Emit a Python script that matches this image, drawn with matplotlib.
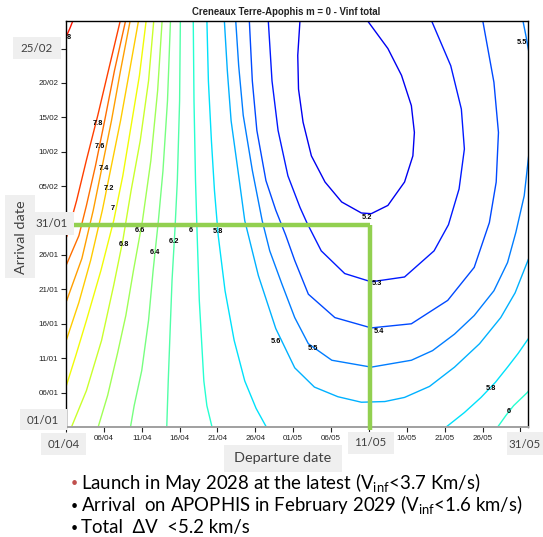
import numpy as np
import matplotlib
matplotlib.use('Agg')
import matplotlib.pyplot as plt
from matplotlib.patches import Rectangle

W, H = 543, 537

# ── Axis dates (days after 01/04 for departure, after 01/01 for arrival) ──
dep_ticks = list(range(0, 61, 5))
dep_labels = ['01/04', '06/04', '11/04', '16/04', '21/04', '26/04', '01/05',
              '06/05', '11/05', '16/05', '21/05', '26/05', '31/05']
arr_ticks = list(range(0, 56, 5))
arr_labels = ['01/01', '06/01', '11/01', '16/01', '21/01', '26/01', '31/01',
              '05/02', '10/02', '15/02', '20/02', '25/02']
# dates that the slide re-labels in grey boxes
dep_boxed = ['01/04', '11/05', '31/05']
arr_boxed = ['01/01', '31/01', '25/02']

# ── Vinf total iso-lines: (departure day, arrival day) ──
c52 = [(30.9, 59.2), (30.6, 54.0), (30.7, 49.1), (31.3, 44.3), (32.4, 39.4), (34.2, 35.6),
       (36.4, 32.7), (39.0, 31.1), (40.3, 31.0), (42.5, 32.2), (44.7, 35.6), (45.8, 39.4),
       (46.0, 42.8), (45.6, 46.7), (44.3, 51.1), (42.5, 55.0), (39.7, 59.2)]
c53 = [(26.7, 59.2), (27.2, 50.3), (28.0, 43.1), (29.3, 36.5), (30.9, 31.9), (31.8, 29.7),
       (33.7, 25.6), (36.8, 22.3), (40.3, 21.1), (44.7, 21.8), (48.6, 25.6), (50.5, 29.4),
       (51.9, 34.6), (52.6, 40.4), (52.2, 46.2), (50.8, 52.5), (48.2, 59.2)]
c54 = [(24.2, 59.2), (24.6, 50.3), (25.2, 43.1), (26.4, 35.8), (27.7, 31.5), (29.0, 27.9),
       (30.2, 24.2), (32.0, 19.3), (35.5, 15.9), (40.3, 14.4), (45.6, 15.0), (50.4, 18.4),
       (53.9, 23.2), (55.9, 29.7), (56.8, 35.6), (57.1, 42.8), (56.5, 50.1), (55.0, 59.2)]
c55a = [(60.3, 59.2), (60.7, 57.0), (61.2, 54.0)]
c55b = [(61.1, 39.5), (60.5, 33.6), (59.4, 28.3), (58.3, 23.9), (56.5, 19.8), (53.9, 16.2),
        (51.3, 13.5), (48.4, 11.1), (45.6, 9.7), (40.3, 8.7), (35.1, 9.7), (32.0, 12.1),
        (30.2, 15.9), (28.5, 20.8), (26.9, 25.6), (25.9, 30.0), (24.6, 37.3), (23.4, 45.3),
        (22.8, 52.5), (22.4, 59.2)]
c56 = [(20.9, 59.2), (21.3, 51.8), (21.8, 44.5), (22.7, 37.3), (23.6, 30.0), (25.4, 22.0),
       (27.7, 14.3), (30.2, 8.6), (32.8, 5.8), (35.9, 4.4), (39.0, 3.6), (42.1, 3.7),
       (44.7, 4.3), (48.0, 5.9), (51.3, 8.7), (54.6, 12.1), (57.4, 15.9), (59.3, 19.5),
       (61.1, 24.5)]
c58a = [(18.6, 59.2), (18.8, 50.3), (19.2, 41.6), (19.6, 34.4), (20.1, 27.8), (21.0, 19.8),
        (22.2, 12.6), (23.6, 6.7), (25.1, 2.7), (26.5, -0.1), (26.9, -1.0)]
c58b = [(49.3, -1.0), (50.2, 0.0), (52.6, 2.1), (54.8, 4.3), (56.7, 6.5), (58.3, 8.7),
        (59.7, 10.7), (60.9, 12.6), (61.4, 13.4)]
c60a = [(16.8, 59.2), (16.9, 47.4), (17.1, 35.8), (17.3, 28.5), (17.6, 18.4), (18.2, 6.7),
        (18.6, 3.1), (19.3, -0.1), (19.4, -1.1)]
c60b = [(56.4, -1.0), (57.0, 0.0), (58.1, 1.7), (59.1, 3.1), (60.9, 5.0), (61.4, 5.7)]
c62 = [(15.1, 59.2), (15.0, 47.4), (14.7, 35.8), (14.4, 29.0), (14.0, 21.3), (13.8, 15.5),
       (13.5, 6.7), (13.3, -0.1), (13.3, -1.1)]
c64 = [(13.8, 59.2), (13.4, 47.4), (12.8, 37.2), (12.2, 30.0), (11.5, 22.7), (10.9, 15.5),
       (10.0, 8.2), (9.0, 3.1), (8.5, -0.1), (8.3, -1.1)]
c66 = [(12.7, 59.2), (12.1, 48.9), (11.2, 38.7), (10.1, 30.0), (8.9, 22.7), (7.9, 16.2),
       (6.8, 10.7), (5.5, 4.6), (4.3, 0.2), (4.1, -1.1)]
c68 = [(11.6, 59.2), (10.9, 50.3), (9.8, 41.6), (8.6, 34.4), (7.5, 27.1), (6.3, 20.6),
       (4.7, 12.6), (2.7, 5.3), (0.8, 0.2), (0.5, -0.8)]
c70 = [(10.6, 59.2), (9.7, 51.1), (8.6, 43.8), (7.5, 36.5), (6.3, 30.0), (4.6, 22.7),
       (2.7, 15.5), (1.3, 10.4), (0.1, 6.2), (-0.4, 4.4)]
c72 = [(9.6, 59.2), (8.4, 51.8), (7.2, 44.5), (6.0, 38.0), (4.8, 31.5), (3.25, 24.2),
       (1.7, 18.1), (0.1, 12.8), (-0.4, 11.4)]
c74 = [(8.5, 59.2), (7.2, 51.8), (6.0, 44.5), (4.8, 38.0), (3.6, 31.5), (2.1, 24.5),
       (0.1, 18.4), (-0.4, 17.2)]
c76 = [(7.9, 59.2), (6.4, 51.8), (5.1, 44.5), (3.9, 38.0), (2.7, 32.2), (1.7, 27.8),
       (0.1, 23.7), (-0.4, 22.7)]
c78 = [(7.2, 59.2), (5.6, 51.8), (4.2, 45.3), (2.7, 38.8), (1.4, 32.9), (0.1, 27.7),
       (-0.4, 26.5)]
c80 = [(0.97, 59.2), (0.5, 57.9), (0.1, 56.9), (-0.4, 55.6)]

levels = [5.2, 5.3, 5.4, 5.5, 5.6, 5.8, 6.0, 6.2, 6.4, 6.6, 6.8, 7.0, 7.2, 7.4, 7.6, 7.8, 8.0]
level_lines = [[c52], [c53], [c54], [c55a, c55b], [c56], [c58a, c58b], [c60a, c60b], [c62],
               [c64], [c66], [c68], [c70], [c72], [c74], [c76], [c78], [c80]]

# contour labels
lab_text = ['5.2', '5.3', '5.4', '5.5', '5.6', '5.8', '5.8', '6', '6', '6.2', '6.4', '6.6',
            '6.8', '7', '7.2', '7.4', '7.6', '7.8', '8', '5.5']
lab_dep = [39.7, 41.1, 41.3, 32.6, 27.7, 20.0, 56.1, 16.5, 58.5, 14.2, 11.7, 9.7,
           7.6, 6.2, 5.7, 5.0, 4.5, 4.2, 0.35, 60.2]
lab_arr = [30.4, 20.8, 13.9, 11.4, 12.4, 28.4, 5.6, 28.5, 2.2, 26.9, 25.4, 28.5,
           26.5, 31.7, 34.7, 37.6, 40.8, 44.1, 56.6, 55.9]

# selected window
sel_dep = 40.2
sel_arr = 29.4

bullets = [r'Launch in May 2028 at the latest (V$_{\mathregular{inf}}$<3.7 Km/s)',
           r'Arrival  on APOPHIS in February 2029 (V$_{\mathregular{inf}}$<1.6 km/s)',
           'Total  \u0394V  <5.2 km/s']

plt.rcParams['font.family'] = ['Lato', 'DejaVu Sans']


def fx(x):
    return x / W


def fy(y):
    return 1 - y / H


fig = plt.figure(figsize=(W / 100, H / 100), dpi=100)
fig.patch.set_facecolor('white')
ax = fig.add_axes([fx(66), fy(427), (528 - 66) / W, (427 - 21) / H])

colors = plt.cm.jet(np.linspace(0.1, 0.89, len(levels)))
for lev, pieces, col in zip(levels, level_lines, colors):
    for piece in pieces:
        xs, ys = zip(*piece)
        ax.plot(xs, ys, color=col, lw=1.0, solid_joinstyle='round')

for t, x, y in zip(lab_text, lab_dep, lab_arr):
    ax.text(x, y, t, fontsize=5.3, fontweight='bold', family='Liberation Sans',
            ha='center', va='center', color='black', clip_on=True)

# green selection lines
ax.plot([0, sel_dep], [sel_arr, sel_arr], color='#92D050', lw=3.2,
        solid_capstyle='butt', zorder=5)
ax.plot([sel_dep, sel_dep], [sel_arr, -0.5], color='#92D050', lw=3.2,
        solid_capstyle='butt', zorder=5, clip_on=False)

ax.set_xlim(0, 61)
ax.set_ylim(0, 59)
ax.set_xticks(dep_ticks)
ax.set_xticklabels(['' if d in dep_boxed else d for d in dep_labels])
ax.set_yticks(arr_ticks)
ax.set_yticklabels(['' if d in arr_boxed else d for d in arr_labels])
ax.tick_params(axis='both', labelsize=5.8, colors='#222222', length=3.5, width=0.8,
               pad=2)
for lbl in ax.get_xticklabels() + ax.get_yticklabels():
    lbl.set_family('Liberation Sans')
for s in ['left', 'top', 'right']:
    ax.spines[s].set_color('black')
    ax.spines[s].set_linewidth(1.0)
ax.spines['bottom'].set_color('#a0a0a0')
ax.spines['bottom'].set_linewidth(1.4)

fig.text(fx(286), fy(12), 'Creneaux Terre-Apophis m = 0 - Vinf total', fontsize=6.9,
         fontweight='bold', family='Liberation Sans', ha='center', va='center',
         color='#222222')

# ── grey label boxes added on the slide ──
boxes = [
    ('25/02', 12.7, 36.7, 61, 59, 37, 48, 0),
    ('Arrival date', 5, 195, 35, 278, 21, 237, 90),
    ('31/01', 33, 211.7, 74, 235, 52, 223.5, 0),
    ('01/01', 20, 409, 67, 430, 43, 420, 0),
    ('01/04', 41, 433, 86.5, 455.4, 63.5, 444, 0),
    ('Departure date', 224, 445, 342, 472, 283, 458.5, 0),
    ('11/05', 347.5, 432, 394, 454, 370.5, 443, 0),
    ('31/05', 507, 432, 543, 455, 525, 444, 0),
]
for txt, x0, y0, x1, y1, tx, ty, rot in boxes:
    fig.patches.append(Rectangle((fx(x0), fy(y1)), (x1 - x0) / W, (y1 - y0) / H,
                                 transform=fig.transFigure, facecolor='#efefef',
                                 edgecolor='none', zorder=3))
    size = 10.4 if 'date' in txt else 8.3
    fig.text(fx(tx), fy(ty), txt, fontsize=size, color='#404040', ha='center',
             va='center', rotation=rot, zorder=4)

# ── bullet text ──
bullet_y = [483, 505.6, 528]
bullet_col = ['#c0504d', 'black', 'black']
for txt, y, bc in zip(bullets, bullet_y, bullet_col):
    fig.text(fx(71), fy(y), '\u2022', fontsize=9, color=bc, ha='left', va='center')
    fig.text(fx(81), fy(y), txt, fontsize=13.4, color='black', ha='left', va='center')

fig.savefig('out.png', dpi=100, facecolor='white')
